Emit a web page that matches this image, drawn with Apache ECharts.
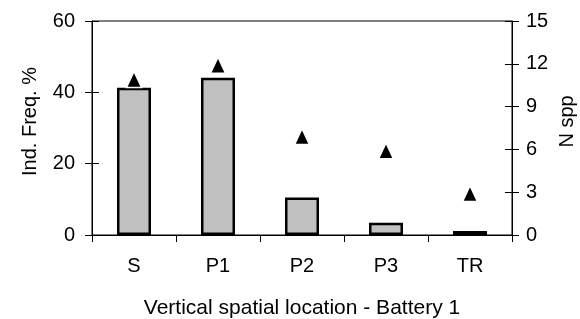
<!DOCTYPE html>
<html>
<head>
<meta charset="utf-8">
<script src="https://cdn.jsdelivr.net/npm/echarts@6/dist/echarts.min.js"></script>
<style>
  html, body { margin: 0; padding: 0; background: #fff; }
  #chart { width: 580px; height: 319px; }
</style>
</head>
<body>
<div id="chart"></div>
<script>
// categories along the x axis
const categories = ["S", "P1", "P2", "P3", "TR"];
// Ind. Freq. % (bars, left axis)
const indFreq = [41.3, 44.1, 10.5, 3.4, 1.1];
// N spp (triangles, right axis)
const nSpp = [10.9, 11.9, 6.9, 5.9, 2.9];

const FONT = "'Liberation Sans', Arial, sans-serif";
const txt = { color: "#000", fontFamily: FONT, fontSize: 20 };

const chart = echarts.init(document.getElementById("chart"));

// outer ticks + labels
const outerAxis = (pos, max, interval, name, margin, gap) => ({
  type: "value",
  position: pos,
  min: 0,
  max: max,
  interval: interval,
  name: name,
  nameLocation: "middle",
  nameRotate: 90,
  nameGap: gap,
  nameMoveOverlap: pos === "left",
  nameTextStyle: Object.assign({ padding: [0, 0, 0, 13] }, txt),
  axisLine: { show: true, lineStyle: { color: "#000", width: 1 } },
  axisTick: { show: true, inside: false, length: 7, lineStyle: { color: "#000" } },
  axisLabel: Object.assign({ margin: margin }, txt),
  splitLine: { show: false }
});

// inner ticks only (so ticks cross the axis line)
const innerAxis = (pos, max, interval) => ({
  type: "value",
  position: pos,
  min: 0,
  max: max,
  interval: interval,
  axisLine: { show: false },
  axisTick: { show: true, inside: true, length: 7, lineStyle: { color: "#000" } },
  axisLabel: { show: false },
  splitLine: { show: false }
});

chart.setOption({
  backgroundColor: "#fff",
  animation: false,
  grid: {
    left: 92,
    right: 68,
    top: 21,
    bottom: 84,
    outerBoundsMode: "none",
    show: true,
    borderColor: "#000",
    borderWidth: 1
  },
  xAxis: {
    type: "category",
    data: categories,
    name: "Vertical spatial location - Battery 1",
    nameLocation: "middle",
    nameGap: 63,
    nameTextStyle: Object.assign({}, txt, { fontSize: 21 }),
    axisLine: { lineStyle: { color: "#000", width: 1 } },
    axisTick: { show: true, length: 7, lineStyle: { color: "#000" } },
    axisLabel: Object.assign({ margin: 21 }, txt)
  },
  yAxis: [
    outerAxis("left", 60, 20, "Ind. Freq. %", 17, 52),
    outerAxis("right", 15, 3, "N spp", 14, 45),
    innerAxis("left", 60, 20),
    innerAxis("right", 15, 3)
  ],
  series: [
    {
      type: "bar",
      yAxisIndex: 0,
      data: indFreq,
      barWidth: 34,
      itemStyle: { color: "#c0c0c0", borderColor: "#000", borderWidth: 2.5 }
    },
    {
      type: "scatter",
      yAxisIndex: 1,
      data: nSpp,
      symbol: "triangle",
      symbolSize: [15, 16],
      itemStyle: { color: "#000", borderColor: "#fff", borderWidth: 1.5, opacity: 1 },
      z: 5
    }
  ]
});
</script>
</body>
</html>
